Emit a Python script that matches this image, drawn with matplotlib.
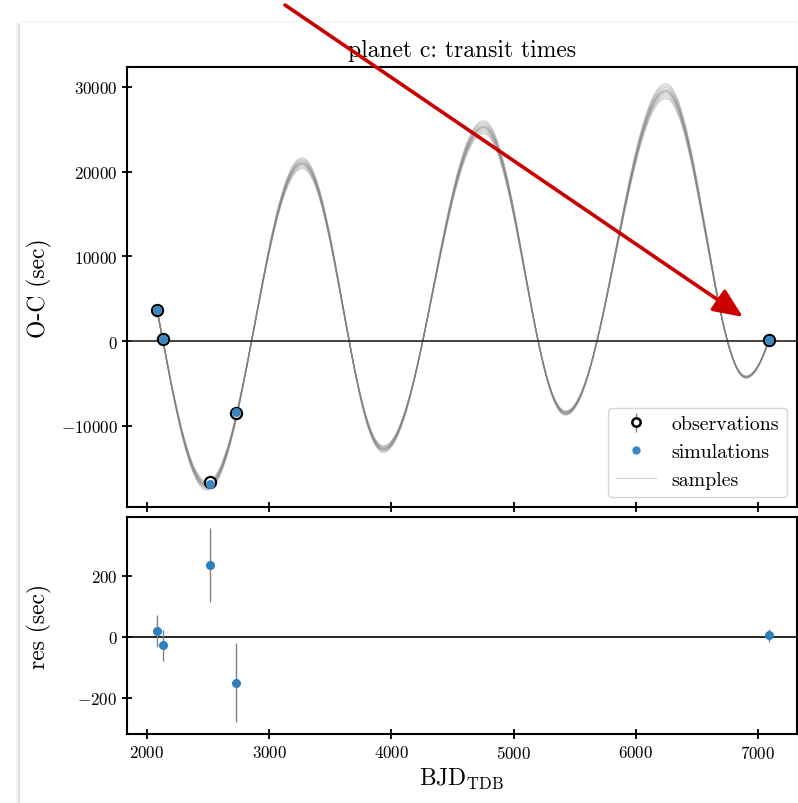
import numpy as np
import matplotlib
matplotlib.use("Agg")
import matplotlib.pyplot as plt
from matplotlib.patches import Rectangle, FancyArrowPatch
from matplotlib.lines import Line2D

plt.rcParams["font.family"] = "serif"
plt.rcParams["font.serif"] = ["cmr10"]
plt.rcParams["mathtext.fontset"] = "cm"
plt.rcParams["axes.formatter.use_mathtext"] = True

# observed transit times (BJD_TDB) and O-C in seconds
obs_t = [2082, 2131, 2516, 2730, 7090]
obs_oc = [3700, 200, -16700, -8500, 100]
# residuals (obs - sim) and their uncertainties, seconds
res = [20, -28, 235, -150, 5]
res_err = [52, 50, 122, 130, 22]
# turning points of the posterior TTV curve (time, O-C)
tp_t = [1730, 2492, 3270, 3934, 4754, 5426, 6246, 6902, 7560]
tp_v = [20000, -17100, 21000, -12750, 25250, -8500, 29500, -4250, 18900]
# relative amplitude offsets of the posterior samples
sample_offsets = [-0.03, -0.022, -0.015, -0.008, -0.003, 0.0, 0.003, 0.008, 0.015, 0.022, 0.03]

sim_oc = [o - r for o, r in zip(obs_oc, res)]

W, H = 798, 804
fig = plt.figure(figsize=(W / 100, H / 100), dpi=100)
fig.patch.set_facecolor("white")

# page card shadow
for i, a in enumerate([0.03, 0.06, 0.1, 0.15]):
    fig.add_artist(Rectangle(((16 + i) / W, 0), 1 / W, 1 - 24 / H, transform=fig.transFigure,
                             facecolor="black", alpha=a, edgecolor="none", zorder=-5))
fig.add_artist(Rectangle((20 / W, 1 - 23 / H), 1 - 20 / W, 1 / H, transform=fig.transFigure,
                         facecolor="black", alpha=0.05, edgecolor="none", zorder=-5))

ax1 = fig.add_axes([127 / W, 1 - 508 / H, 670 / W, 440 / H])
ax2 = fig.add_axes([127 / W, 1 - 735 / H, 670 / W, 217 / H])


def ttv_curve(t):
    """Smooth half-cosine path through the turning points."""
    out = np.empty_like(t)
    for i in range(len(tp_t) - 1):
        t0, t1 = tp_t[i], tp_t[i + 1]
        v0, v1 = tp_v[i], tp_v[i + 1]
        m = (t >= t0) & (t <= t1)
        f = (t[m] - t0) / (t1 - t0)
        out[m] = (v0 + v1) / 2 + (v0 - v1) / 2 * np.cos(np.pi * f)
    return out


tt = np.linspace(obs_t[0], obs_t[-1], 2000)
base = ttv_curve(tt)
for k, d in enumerate(sample_offsets):
    ax1.plot(tt, base * (1 + d), color="gray", lw=0.9, alpha=0.35, zorder=1,
             label="samples" if k == 0 else None)

ax1.axhline(0, color="#222222", lw=1.2, zorder=2)
ax1.errorbar(obs_t, obs_oc, yerr=res_err, fmt="o", ms=8, mfc="white", mec="black", mew=1.6,
             ecolor="gray", elinewidth=1, zorder=3)
ax1.plot(obs_t, sim_oc, "o", ms=5.5, color="#3a86c0", zorder=4)

ax1.set_xlim(1836, 7320)
ax1.set_ylim(-19600, 32360)
ax1.set_xticks([2000, 3000, 4000, 5000, 6000, 7000])
ax1.set_xticklabels([])
ax1.set_yticks([-10000, 0, 10000, 20000, 30000])
ax1.set_ylabel("O-C (sec)", fontsize=17)
ax1.set_title("planet c: transit times", fontsize=17, pad=8)

h_obs = ax1.errorbar([], [], yerr=[], fmt="o", ms=6, mfc="white", mec="black", mew=1.8,
                     ecolor="gray", elinewidth=1)
h_sim = Line2D([], [], marker="o", ls="none", ms=5, color="#3a86c0")
h_smp = Line2D([], [], color="gray", lw=0.8, alpha=0.35)
ax1.legend([h_obs, h_sim, h_smp], ["observations", "simulations", "samples"],
           loc="lower right", fontsize=14.3, frameon=True, edgecolor="#cccccc")

ax2.axhline(0, color="black", lw=1.2, zorder=1)
ax2.errorbar(obs_t, res, yerr=res_err, fmt="o", ms=5.5, color="#2f7fbd",
             ecolor="gray", elinewidth=1, zorder=3)
ax2.set_xlim(1836, 7320)
ax2.set_ylim(-318, 393)
ax2.set_xticks([2000, 3000, 4000, 5000, 6000, 7000])
ax2.set_yticks([-200, 0, 200])
ax2.set_ylabel("res (sec)", fontsize=17)
ax2.set_xlabel(r"BJD$_{\mathrm{TDB}}$", fontsize=17)

for ax in (ax1, ax2):
    for s in ax.spines.values():
        s.set_linewidth(1.5)
    ax.tick_params(direction="inout", length=7, width=1.3, labelsize=12.2)

ax1.yaxis.set_label_coords(-0.112, 0.5)
ax2.yaxis.set_label_coords(-0.112, 0.5)

# annotation arrow
arrow = FancyArrowPatch((285 / W, 1 - 6 / H), (743 / W, 1 - 318 / H), transform=fig.transFigure,
                        arrowstyle="-|>,head_length=1.5,head_width=0.65", mutation_scale=12,
                        shrinkA=0, shrinkB=0, color="#cc0000", lw=2.6, zorder=10)
fig.add_artist(arrow)

fig.savefig("out.png", dpi=100)
